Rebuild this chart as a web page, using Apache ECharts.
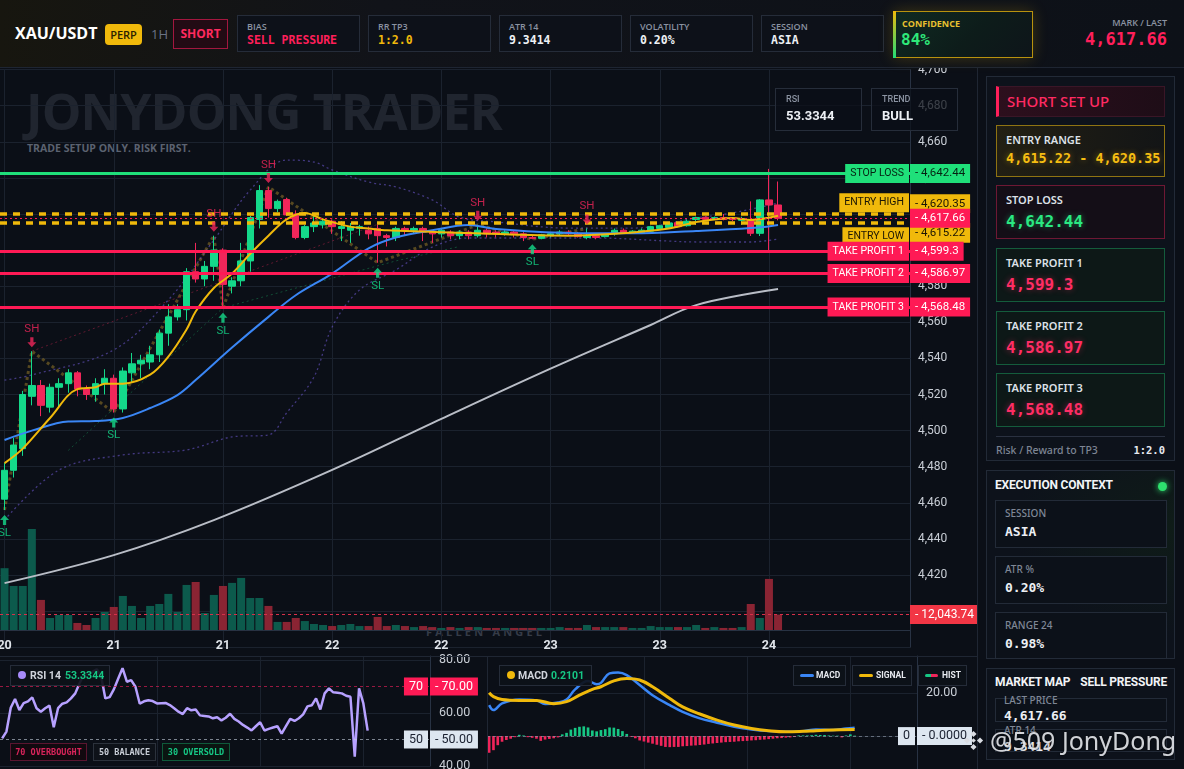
<!DOCTYPE html>
<html>
<head>
<meta charset="utf-8">
<title>XAU/USDT Short Setup</title>
<script src="https://cdn.jsdelivr.net/npm/echarts@6.0.0/dist/echarts.min.js"></script>
<style>
*{box-sizing:border-box;margin:0;padding:0}
html,body{width:1184px;height:769px;overflow:hidden;background:#0b0f17;font-family:'Noto Sans',sans-serif;color:#e6e9ef}
.a{position:absolute;white-space:nowrap}
#chart{position:absolute;left:0;top:0;width:978px;height:769px;z-index:2}
#top{position:absolute;left:0;top:0;width:1184px;height:68px;z-index:10;background:linear-gradient(90deg,#17160f 0%,#111319 32%,#0d1118 100%);border-bottom:1px solid #1e2532}
.stat{position:absolute;top:15px;width:123px;height:37px;border:1px solid #252c39;background:#0d1119}
.stat .l{position:absolute;left:9px;top:4px;font:600 9px 'Open Sans',sans-serif;color:#8b93a2}
.stat .v{position:absolute;left:9px;top:17px;font:700 11.5px 'DejaVu Sans Mono',monospace;color:#eef1f5}
.card{position:absolute;left:996px;width:169px;height:54px;border:1px solid}
.card .l{position:absolute;left:9px;top:6px;font:600 11px 'Noto Sans',sans-serif;color:#dde1e8}
.card .v{position:absolute;left:9px;top:26px;font-family:'DejaVu Sans Mono',monospace;font-weight:700;font-size:16px}
.ibox{position:absolute;left:995px;width:172px;height:48px;border:1px solid #232b38;background:#0c1119;z-index:3}
.ibox .l{position:absolute;left:9px;top:5px;font:500 10px 'Noto Sans',sans-serif;color:#7f8796}
.ibox .v{position:absolute;left:9px;top:23px;font:700 13px 'DejaVu Sans Mono',monospace;color:#eceff4}
.lg{position:absolute;top:665px;height:21px;border:1px solid #252c39;background:rgba(13,17,25,.92);z-index:4}
.lg span{position:absolute;top:3px;font:700 10.5px Roboto,sans-serif}
.tg{position:absolute;top:743px;height:18px;border:1px solid;font:700 8.5px 'DejaVu Sans Mono',monospace;line-height:16px;text-align:center;z-index:4}
.mini{position:absolute;top:88px;width:87px;height:43px;border:1px solid #262d3a;background:rgba(11,15,23,.74);z-index:4}
.mini .l{position:absolute;left:10px;top:5px;font:500 9px Roboto,sans-serif;color:#8b93a2}
.mini .v{position:absolute;left:10px;top:19px;font:700 13px Roboto,sans-serif;color:#eceff4}
.sep{position:absolute;background:#1f2633;z-index:3}
</style>
</head>
<body>
<div class="a" style="left:26px;top:86px;font:700 50px/1 'Open Sans',sans-serif;color:#20252f;letter-spacing:-0.9px;z-index:1">JONYDONG TRADER</div>
<div class="a" style="left:27px;top:143px;font:700 10.5px/1 'Open Sans',sans-serif;color:#5b6270;z-index:1">TRADE SETUP ONLY. RISK FIRST.</div>
<div class="a" style="left:426px;top:626px;font:700 11px/1 'Open Sans',sans-serif;color:#353b47;letter-spacing:3.2px;z-index:1">FALLEN ANGEL</div>

<div id="chart"></div>

<div class="sep" style="left:0;top:656px;width:978px;height:1px"></div>
<div class="sep" style="left:487px;top:656px;width:1px;height:113px"></div>
<div class="sep" style="left:977px;top:68px;width:1px;height:701px"></div>

<div class="mini" style="left:775px"><div class="l">RSI</div><div class="v">53.3344</div></div>
<div class="mini" style="left:871px"><div class="l">TREND</div><div class="v">BULL</div></div>

<div id="top">
  <div class="a" style="left:15px;top:22px;font:700 16px 'Open Sans',sans-serif;color:#fff">XAU/USDT</div>
  <div class="a" style="left:105px;top:24px;width:37px;height:21px;background:#f0b90b;border-radius:4px;color:#2b2200;font:600 11px/21px 'Open Sans',sans-serif;text-align:center">PERP</div>
  <div class="a" style="left:151px;top:25px;font:500 13px 'Open Sans',sans-serif;color:#6b7385">1H</div>
  <div class="a" style="left:173px;top:19px;width:55px;height:30px;border:1px solid #a3173f;background:#220b14;color:#ff2a5f;font:700 12px/28px 'Open Sans',sans-serif;text-align:center">SHORT</div>
  <div class="stat" style="left:237px"><div class="l">BIAS</div><div class="v" style="color:#ff1f5a">SELL PRESSURE</div></div>
  <div class="stat" style="left:368px"><div class="l">RR TP3</div><div class="v" style="color:#f0b90b">1:2.0</div></div>
  <div class="stat" style="left:499px"><div class="l">ATR 14</div><div class="v">9.3414</div></div>
  <div class="stat" style="left:630px"><div class="l">VOLATILITY</div><div class="v">0.20%</div></div>
  <div class="stat" style="left:761px"><div class="l">SESSION</div><div class="v">ASIA</div></div>
  <div class="a" style="left:893px;top:11px;width:140px;height:47px;border:1px solid #b8920e;background:linear-gradient(135deg,#0f2a22 0%,#0d1c1a 55%,#0e151a 100%);box-shadow:0 0 14px rgba(240,185,11,.22)">
    <div class="a" style="left:-1px;top:-1px;width:3px;height:47px;background:linear-gradient(180deg,#f0b90b,#22dd77)"></div>
    <div class="a" style="left:8px;top:5px;font:700 9px 'Open Sans',sans-serif;color:#e8c030">CONFIDENCE</div>
    <div class="a" style="left:7px;top:18px;font:700 16px 'DejaVu Sans Mono',monospace;color:#2ee87a">84%</div>
  </div>
  <div class="a" style="left:1067px;top:16px;width:100px;text-align:right;font:600 9px 'Open Sans',sans-serif;color:#8b93a2">MARK / LAST</div>
  <div class="a" style="left:1047px;top:29px;width:120px;text-align:right;font:700 17px 'DejaVu Sans Mono',monospace;color:#ff1f5a">4,617.66</div>
</div>

<!-- right panel -->
<div class="a" style="left:986px;top:76px;width:189px;height:385px;border:1px solid #222a37;background:#0d121b"></div>
<div class="a" style="left:996px;top:86px;width:169px;height:31px;background:linear-gradient(90deg,#2d0f1d,#1e0d17);border:1px solid #3a1627;border-left:3px solid #ff1f5a">
  <div class="a" style="left:8px;top:4px;font:500 15px 'Noto Sans',sans-serif;color:#ff2a62">SHORT SET UP</div>
</div>
<div class="card" style="top:125px;height:52px;border-color:#8f7412;background:linear-gradient(90deg,rgba(60,48,10,.45),rgba(28,25,14,.4))"><div class="l">ENTRY RANGE</div><div class="v" style="top:24px;font-size:13.5px;color:#f5bd12;text-shadow:0 0 6px rgba(240,185,11,.45)">4,615.22 - 4,620.35</div></div>
<div class="card" style="top:185px;border-color:#6e1834;background:#140e17"><div class="l">STOP LOSS</div><div class="v" style="color:#2ae882;text-shadow:0 0 6px rgba(42,232,130,.45)">4,642.44</div></div>
<div class="card" style="top:248px;border-color:#145c3c;background:#0d1817"><div class="l">TAKE PROFIT 1</div><div class="v" style="color:#ff2d64;text-shadow:0 0 6px rgba(255,45,100,.45)">4,599.3</div></div>
<div class="card" style="top:311px;border-color:#145c3c;background:#0d1817"><div class="l">TAKE PROFIT 2</div><div class="v" style="color:#ff2d64;text-shadow:0 0 6px rgba(255,45,100,.45)">4,586.97</div></div>
<div class="card" style="top:373px;border-color:#145c3c;background:#0d1817"><div class="l">TAKE PROFIT 3</div><div class="v" style="color:#ff2d64;text-shadow:0 0 6px rgba(255,45,100,.45)">4,568.48</div></div>
<div class="a" style="left:996px;top:436px;width:169px;height:1px;background:#2a3140"></div>
<div class="a" style="left:996px;top:443px;font:500 10.5px 'Noto Sans',sans-serif;color:#7d8594">Risk / Reward to TP3</div>
<div class="a" style="left:1100px;top:444px;width:65px;text-align:right;font:700 10.5px 'DejaVu Sans Mono',monospace;color:#e6e9ef">1:2.0</div>

<div class="a" style="left:986px;top:470px;width:189px;height:189px;border:1px solid #222a37;background:radial-gradient(ellipse at 100% 30%,#0f1c18 0%,#0d121b 60%)"></div>
<div class="a" style="left:995px;top:478px;font:700 12px Roboto,sans-serif;color:#f2f4f7;letter-spacing:-0.2px;z-index:3">EXECUTION CONTEXT</div>
<div class="a" style="left:1158px;top:482px;width:9px;height:9px;border-radius:50%;background:#2ee06e;box-shadow:0 0 6px #2ee06e;z-index:3"></div>
<div class="ibox" style="top:500px"><div class="l">SESSION</div><div class="v">ASIA</div></div>
<div class="ibox" style="top:556px"><div class="l">ATR %</div><div class="v">0.20%</div></div>
<div class="ibox" style="top:612px;height:47px"><div class="l">RANGE 24</div><div class="v">0.98%</div></div>

<div class="a" style="left:986px;top:668px;width:189px;height:92px;border:1px solid #222a37;background:#0d121b"></div>
<div class="a" style="left:995px;top:675px;font:700 12px Roboto,sans-serif;color:#f2f4f7;letter-spacing:-0.2px;z-index:3">MARKET MAP</div>
<div class="a" style="left:1067px;top:675px;width:100px;text-align:right;font:700 12px Roboto,sans-serif;color:#f2f4f7;letter-spacing:-0.2px;z-index:3">SELL PRESSURE</div>
<div class="a" style="left:995px;top:698px;width:172px;height:24px;border:1px solid #232b38;background:#0c1119"></div>
<div class="a" style="left:1004px;top:693px;font:500 10px 'Noto Sans',sans-serif;color:#7f8796;z-index:3">LAST PRICE</div>
<div class="a" style="left:1004px;top:708px;font:700 13px 'DejaVu Sans Mono',monospace;color:#eceff4;z-index:3">4,617.66</div>
<div class="a" style="left:995px;top:729px;width:172px;height:23px;border:1px solid #232b38;background:#0c1119"></div>
<div class="a" style="left:1004px;top:723px;font:500 10px 'Noto Sans',sans-serif;color:#7f8796;z-index:3">ATR 14</div>
<div class="a" style="left:1004px;top:739px;font:700 13px 'DejaVu Sans Mono',monospace;color:#eceff4;z-index:3">9.3414</div>

<svg class="a" style="left:962px;top:729px;z-index:6" width="23" height="23" viewBox="0 0 24 24"><g fill="#dadde3"><path d="M12 2l3.2 3.2-3.2 3.2-3.2-3.2z"/><path d="M12 15.6l3.2 3.2-3.2 3.2-3.2-3.2z"/><path d="M2 12l3.2-3.2 3.2 3.2-3.2 3.2z"/><path d="M15.6 12l3.2-3.2 3.2 3.2-3.2 3.2z"/><path d="M12 9.6l2.4 2.4-2.4 2.4-2.4-2.4z"/></g></svg>
<div class="a" style="left:990px;top:725px;font:400 25px/1.2 'Noto Sans',sans-serif;color:rgba(236,238,242,.88);text-shadow:0 0 3px rgba(0,0,0,.7);z-index:6">@509 JonyDong</div>

<!-- bottom legends -->
<div class="lg" style="left:10px;width:100px"><div class="a" style="left:7px;top:5px;width:8px;height:8px;border-radius:50%;background:#a78bfa"></div><span style="left:19px;color:#d0d4dc">RSI 14</span><span style="left:54px;color:#16c784">53.3344</span></div>
<div class="tg" style="left:10px;width:77px;border-color:#5a1530;background:#12090f;color:#d8245a">70 OVERBOUGHT</div>
<div class="tg" style="left:93px;width:63px;border-color:#2c323c;background:#0e1219;color:#c8cdd6">50 BALANCE</div>
<div class="tg" style="left:162px;width:68px;border-color:#0f5a3a;background:#0a1511;color:#16c784">30 OVERSOLD</div>

<div class="lg" style="left:499px;width:93px"><div class="a" style="left:7px;top:5px;width:8px;height:8px;border-radius:50%;background:#f0b90b"></div><span style="left:18px;color:#d0d4dc">MACD</span><span style="left:51px;color:#16c784">0.2101</span></div>
<div class="lg" style="left:793px;width:53px"><div class="a" style="left:6px;top:8px;width:14px;height:3px;border-radius:2px;background:#3a86f5"></div><span style="left:22px;top:4px;font-size:8.5px;color:#e6e9ef">MACD</span></div>
<div class="lg" style="left:852px;width:60px"><div class="a" style="left:6px;top:8px;width:14px;height:3px;border-radius:2px;background:#f0b90b"></div><span style="left:23px;top:4px;font-size:8.5px;color:#e6e9ef">SIGNAL</span></div>
<div class="lg" style="left:918px;width:49px"><div class="a" style="left:6px;top:8px;width:13px;height:3px;border-radius:2px;background:linear-gradient(90deg,#16c784 50%,#f0245a 50%)"></div><span style="left:23px;top:4px;font-size:8.5px;color:#e6e9ef">HIST</span></div>

<script>
// ---------- data ----------
const slotCount = 100;            // hourly slots on the time axis (86 candles + empty space on the right)
const startDay = 20, startHour = 12;
const categories = Array.from({length: slotCount}, (_, i) => {
  const t = startHour + i;
  return (startDay + Math.floor(t / 24)) + ' ' + String(t % 24).padStart(2, '0') + ':00';
});

// [open, close, low, high]
const candles = [
[4462,4478,4456,4482],[4478,4492,4474,4496],[4490,4520,4486,4522],[4519,4525,4514,4544],[4525,4514,4508,4528],
[4513,4524,4510,4526],[4524,4526,4513,4529],[4526,4532,4521,4534],[4532,4523,4519,4533],[4523,4520,4517,4525],
[4520,4526,4516,4529],[4526,4529,4520,4534],[4529,4512,4510,4531],[4512,4533,4510,4535],[4532,4537,4527,4543],
[4537,4539,4529,4542],[4538,4542,4534,4547],[4542,4554,4538,4556],[4554,4563,4547,4570],[4563,4567,4561,4570],
[4567,4588,4561,4590],[4588,4584,4582,4604],[4584,4591,4580,4594],[4591,4600,4583,4608],[4600,4581,4568,4601],
[4580,4583,4576,4585],[4583,4594,4580,4604],[4594,4618,4588,4619],[4617,4633,4612,4636],[4633,4623,4618,4635],
[4623,4627,4621,4628],[4628,4619.5,4619,4629],[4620,4607,4606,4622],[4607,4613,4606,4614],[4613,4615,4610,4619],
[4614,4616,4612,4617],[4616,4613,4609,4617],[4612,4613,4605,4616],[4611,4613,4604,4615],[4612,4613,4608,4614],
[4611,4609,4606,4613],[4612,4608,4593,4614],[4608,4607,4602,4609],[4607,4612,4605,4613],[4612,4611,4608,4613],
[4611,4612,4609,4613],[4612,4610,4605,4613],[4610,4609,4604,4611],[4609,4611,4607,4612],[4610,4608,4606,4611],
[4608,4610,4606,4611],[4610,4608,4606,4611],[4608,4611,4607,4614],[4611,4609,4607,4612],[4610,4609,4607,4611],
[4609,4610,4608,4611],[4610,4609,4607,4611],[4609,4607,4605,4610],[4607,4606.5,4606,4608],[4606.5,4608.5,4606,4609],
[4608,4609,4607,4610],[4609,4610,4608,4611],[4610,4609,4608,4611],[4609,4607.5,4607,4610],[4607,4608,4606,4612],
[4608,4607,4606,4609],[4607.5,4608.5,4607,4609],[4609,4611,4608,4612],[4611,4609.5,4609,4612],[4609.5,4610.5,4609,4611],
[4609.5,4611,4609,4612],[4610.5,4613,4610,4613.5],[4612,4613.5,4611.5,4614],[4612.5,4615,4612,4615.5],[4615.2,4613,4612.5,4615.5],
[4613.5,4616,4613,4617],[4617,4618,4614,4618.5],[4618.2,4617,4616.5,4618.6],[4617.2,4618,4616.8,4618.6],[4618,4617,4616.5,4620],
[4617.5,4617,4616,4618],[4616.5,4617.5,4614,4618.5],[4616.7,4609.3,4607.8,4627],[4609.3,4627.8,4607.8,4628.2],[4627.8,4625,4599,4645],
[4625,4617.66,4616.5,4638]
];

const volumes = [
48300,34400,34400,79000,23500,9400,11700,11700,5500,3900,
9400,14100,18000,26600,18800,9400,18800,20300,28200,14100,
35200,37500,13300,27400,34400,36800,40700,25000,25000,18800,
6300,6300,9400,7000,4700,3900,3100,3900,4700,3100,
3100,10200,3100,3900,3100,2300,3100,2300,1600,2300,
1600,2300,2300,1600,1600,1600,1600,1600,1600,1600,
1600,2300,1600,1600,3900,2300,2300,2300,2300,1600,
1600,3100,2300,2300,2300,2300,3900,1600,2300,1600,
1600,2300,20300,9400,39900,12043.74
];

// moving averages / bands as [slot, price]
const emaFast = [[0,4482],[2,4490],[5,4507],[8,4523],[10,4524],[11,4526],[13,4526],[16,4531],[18,4541],[20,4556],[21,4566],[23,4579],[25,4587],[27,4598],[29,4608],[31,4617],[33,4620.5],[35,4617],[38,4613],[40,4612],[42,4611],[51,4609.5],[62,4608],[67,4609],[73,4612],[76,4615.5],[80,4617.8],[82,4616.7],[85,4619]];
const emaSlow = [[0,4494.8],[3,4500],[7,4505],[10,4505.3],[13,4507],[16,4512.5],[19,4519.7],[21,4528],[25,4546],[29,4563],[32,4575],[36,4587],[40,4601],[43,4607],[47,4611],[51,4613.9],[54,4611.7],[62,4609.5],[69,4609.3],[76,4610.6],[82,4612.2],[85,4613.9]];
const ema200 = [[0,4415.5],[12,4431],[23,4450.4],[36,4478.2],[48,4506.5],[60,4534.3],[71,4558.5],[76,4569.5],[85,4578.4]];
const bandUpper = [[0,4528],[3,4530.8],[12,4544.7],[18,4572.4],[23,4605.6],[27,4633.3],[31,4649.9],[34,4648.8],[36,4644.4],[40,4637.7],[43,4635],[47,4627.8],[50,4618.3],[54,4615.6],[62,4612.2],[69,4612.2],[76,4617.8],[80,4620.6],[85,4626.1]];
const bandLower = [[0,4450.5],[6,4478.2],[13,4486.5],[20,4489.3],[25,4496.5],[29,4497.6],[31,4509.8],[34,4529.7],[36,4557.4],[39,4577.9],[43,4589],[47,4601.7],[51,4606.7],[58,4606.7],[65,4606.7],[73,4605],[76,4604.5],[82,4604.5],[85,4606.1]];
const zigzag = [[0,4456],[3,4544],[12,4510],[23,4608],[24,4568],[29,4635],[41,4593],[52,4614],[58,4606],[64,4612]];
const resistanceTrend = [[3,4544],[43,4618]];
const supportTrend = [[7,4489],[24,4568],[43,4594],[50,4602]];
const swingHighs = [[3,4544],[23,4608],[29,4635],[52,4614],[64,4612]];
const swingLows = [[0,4456],[12,4510],[24,4568],[41,4593],[58,4606]];

const levels = [
  {name:'STOP LOSS', value:4642.44},
  {name:'ENTRY HIGH', value:4620.35},
  {name:'ENTRY LOW', value:4615.22},
  {name:'TAKE PROFIT 1', value:4599.3},
  {name:'TAKE PROFIT 2', value:4586.97},
  {name:'TAKE PROFIT 3', value:4568.48}
];
const lastPrice = 4617.66;
const priceTicks = {min:4380, max:4700, step:20};
const lastLabelSlot = 84;   // last day label ("24") on the time axis

const rsi = [50.4,53,62,65.3,61.1,63.7,64.4,65.9,61.8,60.5,61.8,62.8,54.6,61.8,63.5,64,65.5,67.4,71.2,74.5,
74.8,75.5,76.5,74,65.5,66,69,73,76.9,71.8,72.4,69.9,63.5,64.4,64.8,64.5,63.6,63.7,63.8,63,
61.8,60.5,59.6,61.8,61,61.3,59.1,58.9,58.7,58,58.4,57.2,58.2,59.7,57.8,56.8,55.5,54.5,53.4,55,
56.5,53.4,54,54.5,55,52.2,55,57.8,57,58,59.5,62.5,62.9,65.5,61.3,67.4,69.3,67.8,67.6,67.4,
66.5,66.1,43.5,69.3,63.6,53.3344];
const rsiLevels = [70, 50];

const macdLine = [[0,14.3],[1,12],[3,15.1],[7,16.9],[11,16.5],[13,14.8],[16,15.5],[18,16.9],[20,21.6],[23,25.5],[25,24],[26,24.6],[28,29],[30,29.4],[32,28.2],[35,23.6],[38,18.9],[42,14.3],[45,11.2],[49,8.2],[53,6.2],[57,4.3],[61,3.1],[65,2.3],[69,2],[73,2.3],[76,3.1],[80,2.8],[83,3.5],[85,3.9]];
const signalLine = [[0,20],[1,18.2],[3,16.9],[7,16.5],[11,16.5],[15,15],[18,15.9],[21,18.9],[24,21.6],[26,22.8],[29,25.5],[32,26.6],[35,25.9],[38,22.8],[42,17.4],[45,13.5],[49,10.2],[53,7.4],[57,5.1],[61,3.5],[65,2.5],[69,2],[73,2.2],[76,2.5],[80,2.8],[85,3.1]];
const macdHist = [-7.7,-6.5,-4.2,-2.6,-1.8,-1.2,-0.5,0.6,0.3,-0.5,-0.8,-1.2,-2.2,-1.6,-1.3,-1,-0.6,0.8,1.5,3,
3.8,4.3,4.5,4,2.6,2.2,2.8,3.2,4,3.9,3.3,2.3,1,-0.3,-1,-2,-2.5,-3,-3.5,-4,
-4.5,-5,-5.1,-5,-5,-4.7,-4.6,-4.4,-4.3,-4.1,-3.9,-3.6,-3.4,-3.2,-3,-2.8,-2.7,-2.6,-2.4,-2.3,
-2.2,-2,-1.9,-1.7,-1.6,-1.4,-1.2,-1,-0.9,-0.7,-0.6,-0.4,0.3,0.3,0.3,0.4,0.6,0.5,0.5,0.3,
0.2,0.2,-0.6,0.3,0.8,0.2101];

// ---------- styling ----------
const UP = '#14d98a', DOWN = '#f0265a', PINK = '#ff1a55', SLG = '#1fe07a', GOLD = '#f0b90b';
const GRID_LINE = '#1b222e', AXIS_LINE = '#283243', AXIS_TXT = '#c9ced6';
const FONT = "Roboto, 'Noto Sans', sans-serif";
const HIDDEN_LINE = {color:'rgba(0,0,0,0)', width:0};
const fmtPrice = v => v.toLocaleString('en-US', {maximumFractionDigits: 2});
const mainTick = i => i % 12 === 0 && i <= lastLabelSlot;
const subTick = i => i >= 36 && i <= lastLabelSlot && (i - 12) % 24 === 0;

const levelLook = {
  'STOP LOSS':     {line:{color:SLG, width:3, type:'solid'}, bg:SLG, fg:'#062112', namePos:'insideEnd'},
  'ENTRY HIGH':    {line:{color:GOLD, width:3.5, type:[7,6]}, bg:GOLD, fg:'#1c1604', namePos:'insideEndTop', valueAlign:'bottom'},
  'ENTRY LOW':     {line:{color:GOLD, width:3.5, type:[7,6]}, bg:GOLD, fg:'#1c1604', namePos:'insideEndBottom', valueAlign:'top', shift:4.5},
  'TAKE PROFIT 1': {line:{color:PINK, width:3, type:'solid'}, bg:PINK, fg:'#ffffff', namePos:'insideEnd'},
  'TAKE PROFIT 2': {line:{color:PINK, width:3, type:'solid'}, bg:PINK, fg:'#ffffff', namePos:'insideEnd'},
  'TAKE PROFIT 3': {line:{color:PINK, width:3, type:'solid'}, bg:PINK, fg:'#ffffff', namePos:'insideEnd'}
};

function boxLabel(text, bg, fg, pos, more) {
  return Object.assign({show:true, position:pos, formatter:text, distance:[1,1], backgroundColor:bg, color:fg,
    padding:[4,5,4,5], fontSize:11, lineHeight:11, fontFamily:FONT}, more || {});
}
function valueLabel(text, look, size) {
  if (look.shift) {
    return {show:true, position:'end', distance:0, verticalAlign:'top', formatter:'{t|' + text + '}', padding:[look.shift,0,0,0],
      rich:{t:{backgroundColor:look.bg, color:look.fg, padding:[4,5,4,5], fontSize:size, lineHeight:11, fontFamily:FONT}}};
  }
  const extra = {distance:0, fontSize:size};
  if (look.valueAlign) extra.verticalAlign = look.valueAlign;
  return boxLabel(text, look.bg, look.fg, 'end', extra);
}

const levelMarks = [];
levels.forEach(l => {
  const k = levelLook[l.name];
  const nameExtra = {fontSize:10.5};
  if (l.name === 'ENTRY LOW') nameExtra.distance = [1, 4.5];
  levelMarks.push({yAxis:l.value, lineStyle:k.line, label:boxLabel(l.name, k.bg, k.fg, k.namePos, nameExtra)});
  levelMarks.push({yAxis:l.value, lineStyle:HIDDEN_LINE, label:valueLabel('- ' + fmtPrice(l.value), k, 11.5)});
});
levelMarks.push({yAxis:lastPrice, lineStyle:{color:PINK, width:1, type:[2,3]},
  label:valueLabel('- ' + fmtPrice(lastPrice), {bg:PINK, fg:'#ffffff'}, 11.5)});

const lastVolume = volumes[volumes.length - 1];
const rsiLook = {70:{line:{color:'rgba(200,30,80,.75)', width:1, type:[3,3]}, bg:PINK, fg:'#fff'},
                 50:{line:{color:'rgba(200,210,225,.6)', width:1, type:[3,3]}, bg:'#dde6f0', fg:'#1a2030'}};
const rsiMarks = [];
rsiLevels.forEach(v => {
  const k = rsiLook[v];
  rsiMarks.push({yAxis:v, lineStyle:k.line, label:boxLabel(String(v), k.bg, k.fg, 'insideEnd', {fontSize:12.5, lineHeight:12, padding:[3,5,3,5], distance:[2,1]})});
  rsiMarks.push({yAxis:v, lineStyle:HIDDEN_LINE, label:boxLabel('- ' + v.toFixed(2), k.bg, k.fg, 'end', {fontSize:12.5, lineHeight:12, padding:[3,5,3,5], distance:0})});
});

function mkLine(data, opt) {
  return Object.assign({type:'line', xAxisIndex:0, yAxisIndex:0, data:data, symbol:'none', smooth:0.35, silent:true,
    lineStyle:{color:'#fff', width:2}, z:4}, opt);
}
const markBase = {symbol:['none','none'], silent:true, animation:false};

const upArrow = 'path://M5,0L10,5.5L6.8,5.5L6.8,11L3.2,11L3.2,5.5L0,5.5Z';
const downArrow = 'path://M3.2,0L6.8,0L6.8,5.5L10,5.5L5,11L0,5.5L3.2,5.5Z';

function xAx(grid, extra) {
  return Object.assign({type:'category', gridIndex:grid, data:categories, boundaryGap:true,
    axisLine:{show:false}, axisTick:{show:false}, axisLabel:{show:false}, splitLine:{show:false}}, extra);
}

const option = {
  animation:false,
  backgroundColor:'transparent',
  textStyle:{fontFamily:FONT},
  grid:[
    {left:0, top:69.6, width:910, height:577.6, outerBoundsMode:'none'},
    {left:0, top:470, width:910, height:160, outerBoundsMode:'none'},
    {left:0, top:656, width:430, height:110, outerBoundsMode:'none'},
    {left:487, top:656, width:430, height:123.4, outerBoundsMode:'none'}
  ],
  xAxis:[
    xAx(0, {splitLine:{show:true, interval:(i)=>mainTick(i), alignWithLabel:true, lineStyle:{color:GRID_LINE}}}),
    xAx(1, {axisLine:{show:true, lineStyle:{color:AXIS_LINE}},
            axisLabel:{show:true, interval:(i)=>mainTick(i), formatter:v=>v.split(' ')[0], color:'#e0e4ea', fontSize:12.5, fontWeight:'bold', margin:9}}),
    xAx(2, {splitLine:{show:true, interval:(i)=>subTick(i), alignWithLabel:true, lineStyle:{color:GRID_LINE}}}),
    xAx(3, {splitLine:{show:true, interval:(i)=>subTick(i), alignWithLabel:true, lineStyle:{color:GRID_LINE}}})
  ],
  yAxis:[
    {type:'value', gridIndex:0, position:'right', min:priceTicks.min, max:priceTicks.max, interval:priceTicks.step,
     axisLine:{show:true, lineStyle:{color:AXIS_LINE}}, axisTick:{show:false},
     axisLabel:{color:AXIS_TXT, fontSize:12, margin:8, showMinLabel:false, formatter:v=>v.toLocaleString('en-US')},
     splitLine:{show:true, lineStyle:{color:GRID_LINE}}},
    {type:'value', gridIndex:1, min:0, max:125000, show:false, splitLine:{show:false}},
    {type:'value', gridIndex:2, position:'right', min:40, max:81.5, interval:20,
     axisLine:{show:true, lineStyle:{color:AXIS_LINE}}, axisTick:{show:false},
     axisLabel:{color:AXIS_TXT, fontSize:12.5, margin:9, showMaxLabel:false, formatter:v=>v.toFixed(2)},
     splitLine:{show:true, lineStyle:{color:GRID_LINE}}},
    {type:'value', gridIndex:3, position:'right', min:-20, max:37, interval:20,
     axisLine:{show:true, lineStyle:{color:AXIS_LINE}}, axisTick:{show:false},
     axisLabel:{color:AXIS_TXT, fontSize:12.5, margin:9, showMaxLabel:false, showMinLabel:false, formatter:v=>v.toFixed(2)},
     splitLine:{show:true, lineStyle:{color:GRID_LINE}}}
  ],
  series:[
    {type:'bar', name:'Volume', xAxisIndex:1, yAxisIndex:1, data:volumes, barWidth:'88%', z:1, silent:true,
     itemStyle:{color:p => candles[p.dataIndex][1] >= candles[p.dataIndex][0] ? '#0c5a4c' : '#8a2433'},
     markLine:Object.assign({}, markBase, {data:[{yAxis:lastVolume, lineStyle:{color:'#d8304a', width:1, type:[3,3]},
       label:boxLabel('- ' + fmtPrice(lastVolume), '#f23645', '#ffffff', 'end', {distance:0, fontSize:12, padding:[4,6,4,5]})}]})},
    mkLine(zigzag, {smooth:false, lineStyle:{color:'rgba(150,120,40,.55)', width:3, type:[3,3]}, z:2}),
    mkLine(resistanceTrend, {smooth:false, lineStyle:{color:'rgba(200,40,80,.45)', width:1, type:[2,3]}, z:2}),
    mkLine(supportTrend, {smooth:false, lineStyle:{color:'rgba(30,170,100,.4)', width:1, type:[2,3]}, z:2}),
    mkLine(bandUpper, {lineStyle:{color:'rgba(105,85,200,.6)', width:1.3, type:[2,3]}, z:2}),
    mkLine(bandLower, {lineStyle:{color:'rgba(105,85,200,.6)', width:1.3, type:[2,3]}, z:2}),
    mkLine(ema200, {lineStyle:{color:'#b9bdc6', width:2}}),
    {type:'candlestick', xAxisIndex:0, yAxisIndex:0, data:candles, barWidth:'76%', z:3, silent:true,
     itemStyle:{color:UP, color0:DOWN, borderColor:UP, borderColor0:DOWN, borderWidth:1}},
    mkLine(emaSlow, {lineStyle:{color:'#3a86f5', width:2}}),
    mkLine(emaFast, {lineStyle:{color:GOLD, width:2}}),
    {type:'scatter', xAxisIndex:0, yAxisIndex:0, data:swingHighs, symbol:downArrow, symbolSize:[9,10], symbolOffset:[0,-9], z:6, silent:true,
     itemStyle:{color:DOWN}, label:{show:true, position:'top', distance:2, formatter:'SH', color:DOWN, fontSize:11.5, fontFamily:FONT}},
    {type:'scatter', xAxisIndex:0, yAxisIndex:0, data:swingLows, symbol:upArrow, symbolSize:[9,10], symbolOffset:[0,10], z:6, silent:true,
     itemStyle:{color:UP}, label:{show:true, position:'bottom', distance:2, formatter:'SL', color:UP, fontSize:11.5, fontFamily:FONT}},
    {type:'line', xAxisIndex:0, yAxisIndex:0, data:[], clip:false, z:7, silent:true,
     markLine:Object.assign({}, markBase, {data:levelMarks})},
    {type:'line', xAxisIndex:2, yAxisIndex:2, data:rsi, symbol:'none', silent:true, z:4,
     lineStyle:{color:'#b7a1ff', width:2.5},
     markLine:Object.assign({}, markBase, {data:rsiMarks})},
    {type:'bar', xAxisIndex:3, yAxisIndex:3, data:macdHist, barWidth:'62%', silent:true, z:2,
     itemStyle:{color:p => p.value >= 0 ? '#16c784' : '#f0245a'},
     markLine:Object.assign({}, markBase, {data:[
       {yAxis:0, lineStyle:{color:'rgba(150,160,175,.6)', width:1, type:[3,3]}, label:boxLabel('0', '#dde6f0', '#1a2030', 'insideEnd', {fontSize:12.5, lineHeight:12, padding:[3,5,3,5], distance:[2,1]})},
       {yAxis:0, lineStyle:HIDDEN_LINE, label:boxLabel('- ' + (0).toFixed(4), '#dde6f0', '#1a2030', 'end', {fontSize:12.5, lineHeight:12, padding:[3,5,3,5], distance:0})}
     ]})},
    mkLine(macdLine, {xAxisIndex:3, yAxisIndex:3, smooth:0.4, lineStyle:{color:'#3a86f5', width:2.5}}),
    mkLine(signalLine, {xAxisIndex:3, yAxisIndex:3, smooth:0.4, lineStyle:{color:GOLD, width:3}})
  ]
};

const chart = echarts.init(document.getElementById('chart'));
chart.setOption(option);
</script>
</body>
</html>
